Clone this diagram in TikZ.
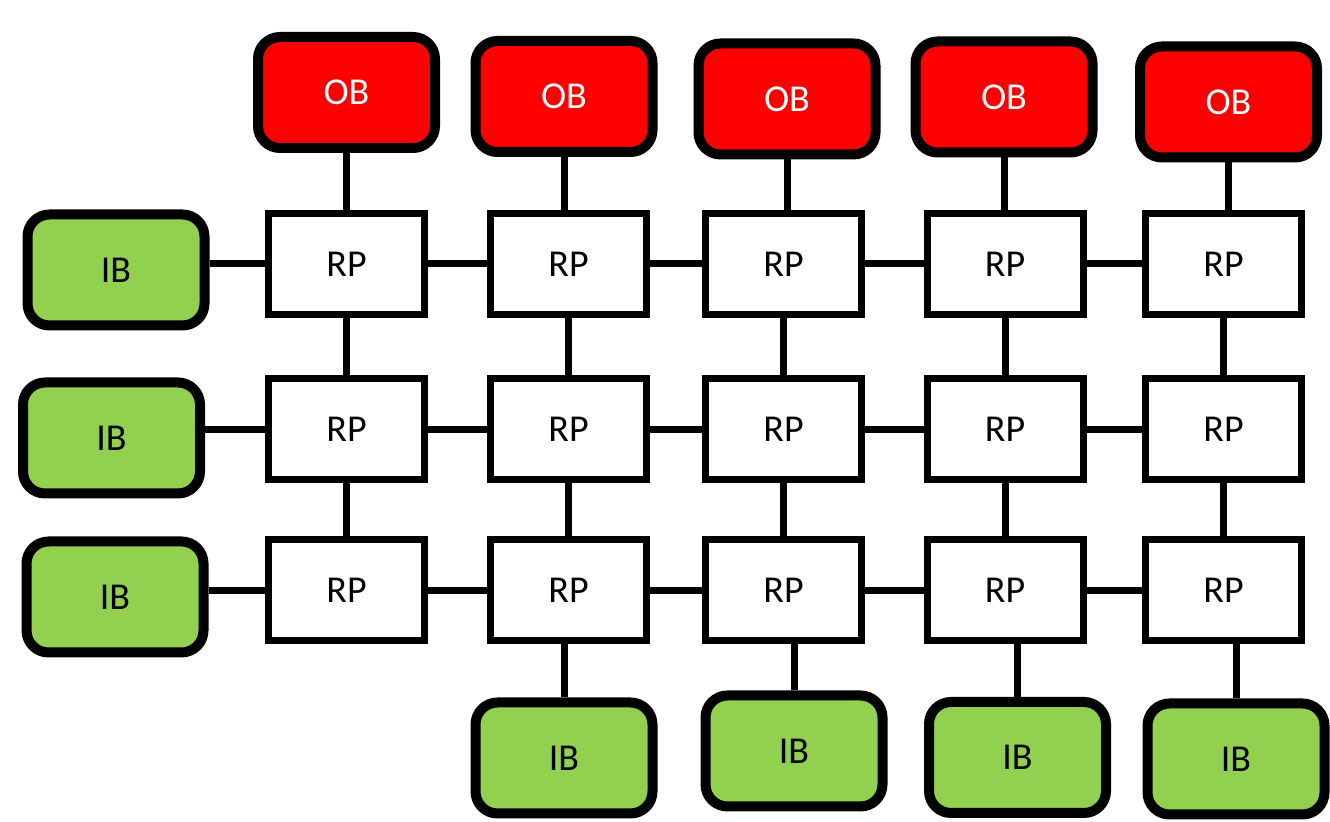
\documentclass[tikz,border=0pt]{standalone}
\usepackage{fontspec}
\setmainfont{Carlito}
\definecolor{obred}{HTML}{FF0000}
\definecolor{ibgreen}{HTML}{92D050}
\begin{document}
\begin{tikzpicture}[x=0.5pt,y=-0.5pt,
  rpbox/.style={draw=black,line width=3.5pt,fill=white,minimum width=78pt,minimum height=50.5pt,inner sep=0pt,font=\fontsize{19}{22}\selectfont},
  obbox/.style={draw=black,line width=5pt,fill=obred,rounded corners=11pt,minimum width=88.5pt,minimum height=55.5pt,inner sep=0pt,text=white,font=\fontsize{19}{22}\selectfont},
  ibbox/.style={draw=black,line width=5pt,fill=ibgreen,rounded corners=11pt,minimum width=88.5pt,minimum height=55.5pt,inner sep=0pt,text=black,font=\fontsize{19}{22}\selectfont},
  conn/.style={line width=3.5pt,black}]
\useasboundingbox (0,0) rectangle (1330,822);
% RP grid
\foreach \c/\x in {1/346.5,2/568.5,3/783.5,4/1005,5/1223.5}{
  \foreach \r/\y in {1/264,2/429.5,3/590.5}{
    \node[rpbox] (rp\r\c) at (\x,\y) {RP};
  }
}
% OB
\node[obbox] (ob1) at (346.5,92.5) {OB};
\node[obbox] (ob2) at (564,96.5) {OB};
\node[obbox] (ob3) at (787,99) {OB};
\node[obbox] (ob4) at (1004,97) {OB};
\node[obbox] (ob5) at (1228.5,102) {OB};
% left IB
\node[ibbox] (ibl1) at (116,270) {IB};
\node[ibbox] (ibl2) at (111.5,438) {IB};
\node[ibbox] (ibl3) at (115,597) {IB};
% bottom IB
\node[ibbox] (ibb2) at (564,758) {IB};
\node[ibbox] (ibb3) at (794,751) {IB};
\node[ibbox] (ibb4) at (1017.5,757.5) {IB};
\node[ibbox] (ibb5) at (1236,759) {IB};
% connectors
\begin{scope}[on background layer/.style={}]
\end{scope}
\foreach \c in {1,...,5}{
  \draw[conn] (ob\c.south) -- (ob\c.south |- rp1\c.north);
  \draw[conn] (rp1\c.south) -- (rp2\c.north);
  \draw[conn] (rp2\c.south) -- (rp3\c.north);
}
\foreach \r in {1,2,3}{
  \draw[conn] (rp\r1.west) -- (rp\r1.west -| ibl\r.east);
  \draw[conn] (rp\r1.east) -- (rp\r2.west);
  \draw[conn] (rp\r2.east) -- (rp\r3.west);
  \draw[conn] (rp\r3.east) -- (rp\r4.west);
  \draw[conn] (rp\r4.east) -- (rp\r5.west);
}
\foreach \c in {2,...,5}{
  \draw[conn] (ibb\c.north) -- (ibb\c.north |- rp3\c.south);
}
\end{tikzpicture}
\end{document}
